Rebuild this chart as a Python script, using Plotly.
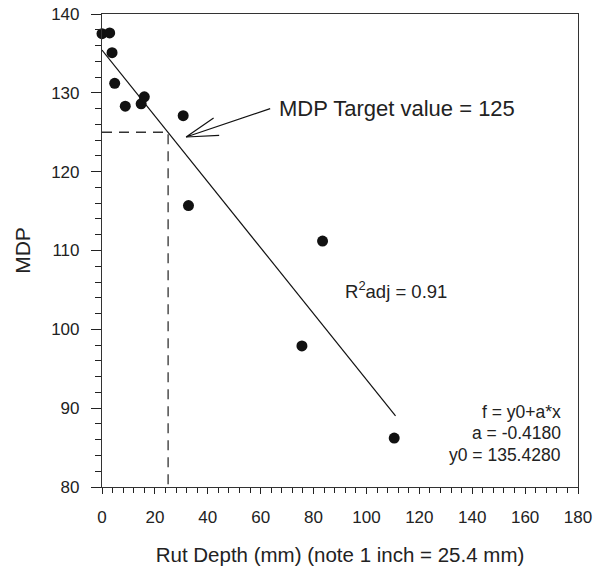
import plotly.graph_objects as go

# Data
rut_depth = [0.0, 2.9, 3.8, 4.8, 8.8, 14.8, 16.0, 30.7, 32.7, 83.4, 75.6, 110.5]
mdp = [137.5, 137.6, 135.1, 131.2, 128.3, 128.6, 129.5, 127.1, 115.7, 111.2, 97.9, 86.2]

# Linear fit parameters (as printed on the chart)
y0 = 135.4280
a = -0.4180
fit_x = [0.0, 111.0]
fit_y = [y0 + a * x for x in fit_x]

# MDP target
target_mdp = 125.0
target_x = 25.0

# Arrow pointing to the target (data coordinates)
arrow_x = [42.2, 31.8, 63.6, None, 31.8, 44.3]
arrow_y = [126.8, 124.4, 128.0, None, 124.4, 124.6]

FONT = "Liberation Sans, Arial, Helvetica, sans-serif"
INK = "#222222"

fig = go.Figure()

# dashed guide lines
fig.add_trace(go.Scatter(
    x=[0, target_x, target_x], y=[target_mdp, target_mdp, 80],
    mode="lines", line=dict(color="#333333", width=1.3, dash="10px,7px"),
    hoverinfo="skip", showlegend=False))

# regression line
fig.add_trace(go.Scatter(
    x=fit_x, y=fit_y, mode="lines",
    line=dict(color="#111111", width=1.2), showlegend=False))

# arrow
fig.add_trace(go.Scatter(
    x=arrow_x, y=arrow_y, mode="lines",
    line=dict(color="#111111", width=1.2), showlegend=False, hoverinfo="skip"))

# data points
fig.add_trace(go.Scatter(
    x=rut_depth, y=mdp, mode="markers",
    marker=dict(color="#111111", size=11, line=dict(width=0)),
    cliponaxis=False, showlegend=False))

fig.update_layout(
    width=600, height=571,
    margin=dict(l=102, r=22, t=14, b=84, pad=0, autoexpand=False),
    paper_bgcolor="white", plot_bgcolor="white",
    font=dict(family=FONT, color=INK, size=17),
    xaxis=dict(
        range=[0, 180], tickmode="linear", tick0=0, dtick=20,
        ticks="outside", ticklen=6, tickwidth=1, tickcolor="#222",
        minor=dict(dtick=4, ticks="outside", ticklen=5, tickwidth=1, tickcolor="#222", showgrid=False),
        showgrid=False, zeroline=False, automargin=False,
        showline=True, linecolor="#333333", linewidth=1.2, mirror=True,
        tickfont=dict(size=17, family=FONT, color=INK),
        ticklabelstandoff=8,
        title=dict(text="Rut Depth (mm) (note 1 inch = 25.4 mm)",
                   font=dict(size=20.5, family=FONT, color=INK), standoff=22),
    ),
    yaxis=dict(
        range=[80, 140], tickmode="linear", tick0=80, dtick=10,
        ticks="outside", ticklen=10, tickwidth=1, tickcolor="#222",
        minor=dict(dtick=2, ticks="outside", ticklen=6, tickwidth=1, tickcolor="#222", showgrid=False),
        showgrid=False, zeroline=False, automargin=False,
        showline=True, linecolor="#333333", linewidth=1.2, mirror=True,
        tickfont=dict(size=17, family=FONT, color=INK),
        ticklabelstandoff=8,
        title=dict(text="MDP", font=dict(size=21, family=FONT, color=INK), standoff=14),
    ),
)

fig.add_annotation(x=66.1, y=128.0, xref="x", yref="y", text="MDP Target value = 125",
                   showarrow=False, xanchor="left", yanchor="middle",
                   font=dict(size=22, family=FONT, color=INK))
fig.add_annotation(x=91.2, y=105.0, xref="x", yref="y", text="R<sup>2</sup>adj = 0.91",
                   showarrow=False, xanchor="left", yanchor="middle",
                   font=dict(size=18.5, family=FONT, color=INK))

eq_lines = ["f = y0+a*x", "a = -0.4180", "y0 = 135.4280"]
eq_y = [89.55, 86.8, 84.0]
for txt, yy in zip(eq_lines, eq_y):
    fig.add_annotation(x=174.3, y=yy, xref="x", yref="y", text=txt,
                       showarrow=False, xanchor="right", yanchor="middle",
                       font=dict(size=17.5, family=FONT, color=INK))

fig.write_html("out.html")
